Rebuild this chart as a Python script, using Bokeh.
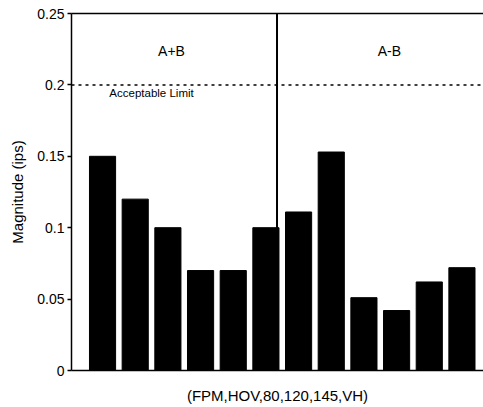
from bokeh.plotting import figure
from bokeh.models import ColumnDataSource, Span, Label, LinearAxis, FixedTicker, Range1d
from bokeh.embed import file_html
from bokeh.resources import INLINE

# ---- data ----
groups = ["A+B", "A-B"]
bar_index = [1, 2, 3, 4, 5, 6, 7, 8, 9, 10, 11, 12]
magnitude = [0.15, 0.12, 0.10, 0.07, 0.07, 0.10, 0.111, 0.153, 0.051, 0.042, 0.062, 0.072]
acceptable_limit = 0.2
y_ticks = [0, 0.05, 0.1, 0.15, 0.2, 0.25]
y_tick_labels = ["0", "0.05", "0.1", "0.15", "0.2", "0.25"]
x_label = "(FPM,HOV,80,120,145,VH)"
y_label = "Magnitude (ips)"

FONT = "Liberation Sans"

p = figure(width=483, height=407, output_backend="svg", toolbar_location=None,
           x_range=Range1d(0.05, 12.66), y_range=Range1d(0, 0.25),
           min_border_left=71, min_border_right=0, min_border_top=13, min_border_bottom=37,
           x_axis_location="below", y_axis_location="left")
p.outline_line_color = None
p.grid.visible = False
p.background_fill_color = "white"
p.border_fill_color = "white"

src = ColumnDataSource(dict(x=bar_index, top=magnitude))
p.vbar(x="x", top="top", bottom=0, width=0.8, source=src,
       fill_color="black", line_color="black")

# y axis
ya = p.yaxis[0]
ya.ticker = FixedTicker(ticks=y_ticks)
ya.major_label_overrides = {t: l for t, l in zip(y_ticks, y_tick_labels)}
ya.minor_tick_line_color = None
ya.major_tick_in = 0
ya.major_tick_out = 4
ya.major_label_standoff = 3
ya.axis_line_width = 1.5
ya.major_tick_line_width = 1.5
ya.axis_line_color = "black"
ya.major_tick_line_color = "black"
ya.major_label_text_font = FONT
ya.major_label_text_font_size = "14px"
ya.major_label_text_color = "black"
ya.axis_label = y_label
ya.axis_label_text_font = FONT
ya.axis_label_text_font_size = "15px"
ya.axis_label_text_font_style = "normal"
ya.axis_label_text_color = "black"
ya.axis_label_standoff = 8

# x axis
xa = p.xaxis[0]
xa.ticker = FixedTicker(ticks=[])
xa.minor_tick_line_color = None
xa.major_tick_in = 0
xa.major_tick_out = 0
xa.major_label_standoff = 0
xa.major_label_text_font_size = "0px"
xa.axis_line_width = 1.5
xa.axis_line_color = "black"
xa.axis_label = x_label
xa.axis_label_text_font = FONT
xa.axis_label_text_font_size = "15px"
xa.axis_label_text_font_style = "normal"
xa.axis_label_text_color = "black"
xa.axis_label_standoff = 16

# top border
top = LinearAxis(ticker=FixedTicker(ticks=[]), major_label_text_font_size="0px",
                 major_tick_in=0, major_tick_out=0, minor_tick_line_color=None,
                 major_label_standoff=0, axis_line_width=1.5, axis_line_color="black")
p.add_layout(top, "above")

# group divider and limit
p.add_layout(Span(location=6.34, dimension="height", line_color="black", line_width=2))
p.add_layout(Span(location=acceptable_limit, dimension="width", line_color="black",
                  line_width=1.5, line_dash="3 4"))

# labels
p.add_layout(Label(x=3.11, y=0.224, text=groups[0], text_align="center", text_baseline="middle",
                   text_font=FONT, text_font_size="14px", text_color="black"))
p.add_layout(Label(x=9.78, y=0.224, text=groups[1], text_align="center", text_baseline="middle",
                   text_font=FONT, text_font_size="14px", text_color="black"))
p.add_layout(Label(x=2.5, y=0.194, text="Acceptable Limit", text_align="center", text_baseline="middle",
                   text_font=FONT, text_font_size="11.5px", text_color="black"))

open("out.html", "w").write(file_html(p, INLINE))
